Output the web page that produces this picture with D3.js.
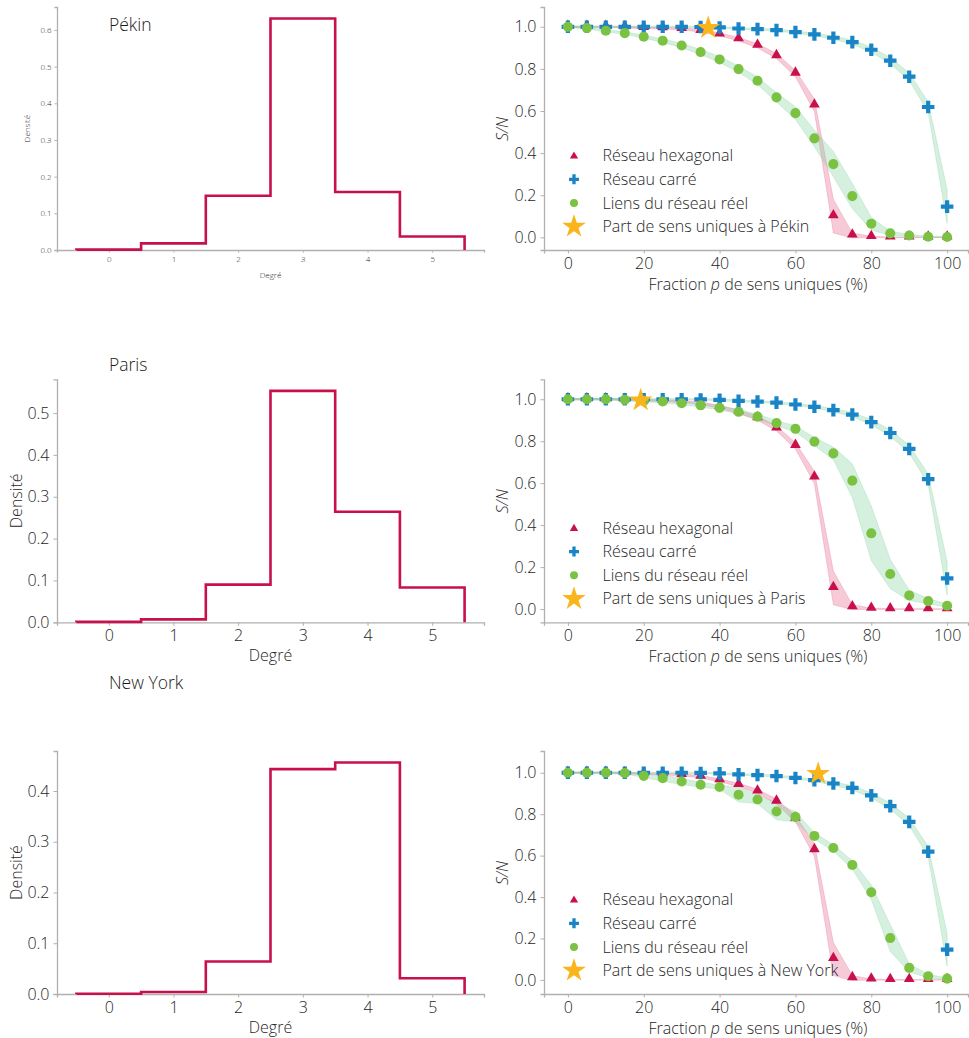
<!DOCTYPE html>
<html><head><meta charset="utf-8">
<script src="https://cdn.jsdelivr.net/npm/d3@7"></script>
<style>
body{margin:0;background:#fff;}
svg{font-family:"Open Sans",sans-serif;font-weight:300;}
</style></head>
<body><svg id="c" width="969" height="1038"></svg>
<script>
// ---------- DATA ----------
const cities = ["Pékin", "Paris", "New York"];
const degrees = [0, 1, 2, 3, 4, 5];
const densityPekin = [0.001, 0.018, 0.148, 0.631, 0.158, 0.037];
const densityParis = [0.001, 0.007, 0.090, 0.553, 0.264, 0.083];
const densityNewYork = [0.0005, 0.004, 0.064, 0.443, 0.456, 0.031];

const fractions = [0,5,10,15,20,25,30,35,40,45,50,55,60,65,70,75,80,85,90,95,100];
const hexagonal = [1.0,1.0,1.0,0.998,0.995,0.993,0.99,0.981,0.964,0.941,0.910,0.861,0.778,0.627,0.101,0.009,0.002,0.0,0.0,0.0,0.0];
const hexagonalErr = [0.003,0.003,0.003,0.004,0.004,0.004,0.005,0.006,0.007,0.008,0.01,0.012,0.015,0.03,0.08,0.012,0.003,0.002,0.001,0.001,0.001];
const square = [1.0,1.0,1.0,1.0,1.0,1.0,1.0,0.999,0.997,0.992,0.989,0.984,0.975,0.964,0.948,0.927,0.891,0.839,0.763,0.619,0.146];
const squareErr = [0.003,0.003,0.003,0.003,0.003,0.003,0.003,0.003,0.004,0.004,0.004,0.005,0.005,0.006,0.008,0.01,0.012,0.015,0.018,0.025,0.08];
const realPekin = [1.0,0.994,0.981,0.970,0.953,0.934,0.911,0.880,0.845,0.799,0.744,0.665,0.590,0.470,0.348,0.196,0.065,0.019,0.009,0.003,0.002];
const realPekinErr = [0.003,0.004,0.005,0.006,0.007,0.008,0.01,0.012,0.014,0.015,0.018,0.022,0.03,0.04,0.06,0.06,0.03,0.01,0.005,0.003,0.003];
const realParis = [1.0,1.0,1.0,0.997,0.992,0.989,0.981,0.971,0.959,0.940,0.917,0.886,0.859,0.798,0.742,0.612,0.361,0.167,0.065,0.038,0.016];
const realParisErr = [0.003,0.003,0.003,0.004,0.005,0.006,0.007,0.008,0.01,0.01,0.012,0.012,0.015,0.02,0.03,0.08,0.13,0.07,0.025,0.012,0.008];
const realNewYork = [1.0,1.0,1.0,0.998,0.985,0.974,0.958,0.942,0.931,0.894,0.871,0.813,0.787,0.695,0.637,0.555,0.423,0.202,0.058,0.018,0.006];
const realNewYorkErr = [0.003,0.003,0.003,0.004,0.008,0.015,0.015,0.012,0.01,0.035,0.02,0.04,0.025,0.015,0.015,0.02,0.035,0.065,0.02,0.008,0.004];
const cityOneWay = [37.0, 19.2, 66.0];
const legendLabels = ["Réseau hexagonal", "Réseau carré", "Liens du réseau réel"];

// ---------- STYLE ----------
const RED = "#c8104b", BLUE = "#1a85c6", GREEN = "#7cc242", STAR = "#fbb51c";
const TXT = "#262626", AX = "#b0b0b0";
const FS = 16, FS_SMALL = 8;
const svg = d3.select("#c");

const rows = [{top:7,bottom:250},{top:379.3,bottom:622.3},{top:751,bottom:994}];
const densities = [densityPekin, densityParis, densityNewYork];
const reals = [realPekin, realParis, realNewYork];
const realErrs = [realPekinErr, realParisErr, realNewYorkErr];

function styleAxis(g, fs){
  g.selectAll(".domain").attr("stroke", AX).attr("stroke-width", 1.3);
  g.selectAll(".tick line").attr("stroke", AX).attr("stroke-width", 1);
  g.selectAll(".tick text").attr("fill", TXT).attr("font-size", fs)
    .style("font-family","'Open Sans',sans-serif").style("font-weight", 300);
}

// ---------- HISTOGRAMS ----------
rows.forEach((r, i) => {
  const vals = densities[i];
  const small = i === 0;
  const fs = small ? FS_SMALL : FS;
  const x = d3.scaleLinear().domain([-0.8, 5.8]).range([57, 484]);
  const y = d3.scaleLinear().domain([0, d3.max(vals) * 1.05]).range([r.bottom, r.top]);
  const gx = svg.append("g").attr("transform", `translate(0,${r.bottom})`)
    .call(d3.axisBottom(x).tickValues(degrees).tickFormat(d3.format("d")).tickSizeOuter(0).tickSize(small?2.5:3.5).tickPadding(4));
  styleAxis(gx, fs);
  const gy = svg.append("g").attr("transform", `translate(57,0)`)
    .call(d3.axisLeft(y).ticks(small?6:5).tickFormat(d3.format(".1f")).tickSizeOuter(0).tickSize(small?2.5:3.5).tickPadding(small?3:4));
  styleAxis(gy, fs);
  // step path
  const pts = [[-0.5, 0]];
  degrees.forEach((d, k) => { pts.push([d - 0.5, vals[k]]); pts.push([d + 0.5, vals[k]]); });
  pts.push([5.5, 0]);
  svg.append("path").attr("d", d3.line().x(p => x(p[0])).y(p => y(p[1]))(pts))
    .attr("fill", "none").attr("stroke", RED).attr("stroke-width", 2.6).attr("stroke-linejoin","miter");
  // labels
  svg.append("text").attr("x", x(2.5)).attr("y", r.bottom + (small ? 28 : 38.5))
    .attr("text-anchor", "middle").attr("fill", TXT).attr("font-size", fs).text("Degré");
  svg.append("text").attr("transform", `translate(${small ? 30 : 22},${(r.top + r.bottom) / 2}) rotate(-90)`)
    .attr("text-anchor", "middle").attr("fill", TXT).attr("font-size", fs).text("Densité");
  // city title
  const ty = [31, 371, 689][i];
  svg.append("text").attr("x", 109).attr("y", ty).attr("fill", "#1a1a1a").attr("font-size", 17.5).text(cities[i]);
});

// ---------- S/N PANELS ----------
const yDomains = [[-0.06, 1.094], [-0.063, 1.095], [-0.068, 1.105]];
rows.forEach((r, i) => {
  const x = d3.scaleLinear().domain([-6.3, 105.5]).range([544, 968]);
  const y = d3.scaleLinear().domain(yDomains[i]).range([r.bottom, r.top]);
  const gx = svg.append("g").attr("transform", `translate(0,${r.bottom})`)
    .call(d3.axisBottom(x).tickValues([0,20,40,60,80,100]).tickSizeOuter(0).tickSize(3.5).tickPadding(4));
  styleAxis(gx, FS);
  const gy = svg.append("g").attr("transform", `translate(544,0)`)
    .call(d3.axisLeft(y).tickValues([0,0.2,0.4,0.6,0.8,1.0]).tickFormat(d3.format(".1f")).tickSizeOuter(0).tickSize(3.5).tickPadding(4));
  styleAxis(gy, FS);

  const area = (vals, err) => d3.area().x((d, k) => x(fractions[k]))
    .y0((d, k) => y(Math.max(vals[k] - err[k], -0.003))).y1((d, k) => y(Math.min(vals[k] + err[k], 1.003)))(vals);
  svg.append("path").attr("d", area(hexagonal, hexagonalErr)).attr("fill", "#e7668f").attr("fill-opacity", 0.35)
    .attr("stroke", "#e7668f").attr("stroke-opacity", 0.35).attr("stroke-width", 0.8);
  svg.append("path").attr("d", area(square, squareErr)).attr("fill", "#7fd09c").attr("fill-opacity", 0.32)
    .attr("stroke", "#7fd09c").attr("stroke-opacity", 0.35).attr("stroke-width", 0.8);
  svg.append("path").attr("d", area(reals[i], realErrs[i])).attr("fill", "#7fd09c").attr("fill-opacity", 0.32)
    .attr("stroke", "#7fd09c").attr("stroke-opacity", 0.35).attr("stroke-width", 0.8);

  const tri = d3.symbol().type(d3.symbolTriangle).size(50);
  const cross = d3.symbol().type(d3.symbolCross).size(88);
  const circ = d3.symbol().type(d3.symbolCircle).size(80);
  const star = d3.symbol().type(d3.symbolStar).size(175);

  svg.append("g").selectAll("path").data(hexagonal).join("path")
    .attr("d", tri).attr("transform", (d, k) => `translate(${x(fractions[k])},${y(d) - 1})`).attr("fill", RED);
  svg.append("g").selectAll("path").data(square).join("path")
    .attr("d", cross).attr("transform", (d, k) => `translate(${x(fractions[k])},${y(d)})`).attr("fill", BLUE);
  svg.append("g").selectAll("path").data(reals[i]).join("path")
    .attr("d", circ).attr("transform", (d, k) => `translate(${x(fractions[k])},${y(d)})`).attr("fill", GREEN);
  svg.append("path").attr("d", star).attr("transform", `translate(${x(cityOneWay[i])},${y(1.0) + 1})`).attr("fill", STAR);

  // legend
  const lt = r.top + 148.7, dy = 23.6, mx = 574, tx = 602.5;
  const legSyms = [d3.symbol().type(d3.symbolTriangle).size(30), d3.symbol().type(d3.symbolCross).size(55),
                   d3.symbol().type(d3.symbolCircle).size(50), d3.symbol().type(d3.symbolStar).size(175)];
  const legCols = [RED, BLUE, GREEN, STAR];
  const labs = legendLabels.concat(["Part de sens uniques à " + cities[i]]);
  labs.forEach((lab, k) => {
    svg.append("path").attr("d", legSyms[k]).attr("transform", `translate(${mx},${lt + k * dy + (k===0?0.5:0)})`).attr("fill", legCols[k]);
    svg.append("text").attr("x", tx).attr("y", lt + k * dy).attr("dy", "0.35em")
      .attr("fill", TXT).attr("font-size", FS).text(lab);
  });

  // axis labels
  const xl = svg.append("text").attr("x", 758).attr("y", r.bottom + 40).attr("text-anchor", "middle")
    .attr("fill", TXT).attr("font-size", FS);
  xl.append("tspan").text("Fraction ");
  xl.append("tspan").attr("font-style", "italic").text("p");
  xl.append("tspan").text(" de sens uniques (%)");
  svg.append("text").attr("transform", `translate(${508},${r.top + 122}) rotate(-90)`).attr("text-anchor", "middle")
    .attr("fill", TXT).attr("font-size", FS).attr("font-style", "italic").text("S/N");
});
</script></body></html>
